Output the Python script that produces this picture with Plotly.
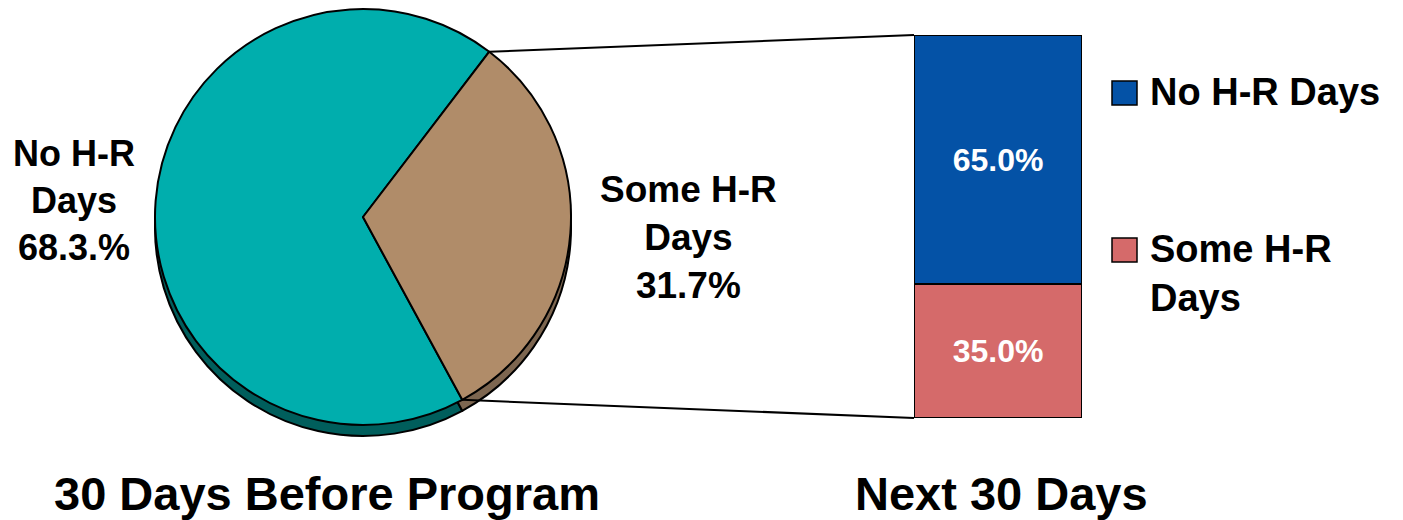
import math
import plotly.graph_objects as go

# ---- data ----
pie_categories = ["No H-R Days", "Some H-R Days"]
pie_values = [68.3, 31.7]
pie_label_text = ["No H-R<br>Days<br>68.3.%", "Some H-R<br>Days<br>31.7%"]

bar_categories = ["Some H-R Days", "No H-R Days"]   # bottom -> top
bar_values = [35.0, 65.0]

left_title = "30 Days Before Program"
right_title = "Next 30 Days"
legend_labels = ["No H-R Days", "Some H-R<br>Days"]

# ---- style ----
W, H = 1403, 520
FONT = "Liberation Sans, Arial, sans-serif"
pie_colors = ["#00aead", "#b08c69"]
pie_shadow_colors = ["#005e5c", "#7d6650"]
bar_colors = {"Some H-R Days": "#d56a6a", "No H-R Days": "#0452a6"}

cx, cy, r = 363, 217, 208          # pie centre / radius in px
depth = 11
rotation = 151.5                    # start angle of first slice (clockwise from 12 o'clock)

def px_dom_x(a, b):
    return [a / W, b / W]

def px_dom_y(top, bottom):
    return [1 - bottom / H, 1 - top / H]

fig = go.Figure()

# 3-D edge (shadow pie)
fig.add_trace(go.Pie(
    labels=pie_categories, values=pie_values, sort=False, direction="clockwise",
    rotation=rotation, textinfo="none", hoverinfo="skip", showlegend=False,
    marker=dict(colors=pie_shadow_colors, line=dict(color="black", width=2)),
    domain=dict(x=px_dom_x(cx - r, cx + r), y=px_dom_y(cy - r + depth, cy + r + depth)),
))
# main pie
fig.add_trace(go.Pie(
    labels=pie_categories, values=pie_values, sort=False, direction="clockwise",
    rotation=rotation, textinfo="none", showlegend=False,
    marker=dict(colors=pie_colors, line=dict(color="black", width=2)),
    domain=dict(x=px_dom_x(cx - r, cx + r), y=px_dom_y(cy - r, cy + r)),
))

# stacked bar
for cat, val in zip(bar_categories, bar_values):
    fig.add_trace(go.Bar(
        x=[0], y=[val], name=cat, width=1, showlegend=False,
        marker=dict(color=bar_colors[cat], line=dict(color="black", width=2)),
        text=[f"{val:.1f}%"], textposition="inside", insidetextanchor="middle",
        textfont=dict(family=FONT, size=32, color="white", weight="bold"),
        xaxis="x", yaxis="y",
    ))

fig.update_layout(
    width=W, height=H, margin=dict(l=0, r=0, t=0, b=0),
    paper_bgcolor="white", plot_bgcolor="rgba(0,0,0,0)",
    barmode="stack", bargap=0,
    xaxis=dict(domain=px_dom_x(914, 1082), range=[-0.5, 0.5], visible=False, fixedrange=True),
    yaxis=dict(domain=px_dom_y(35, 418), range=[0, 100], visible=False, fixedrange=True),
    showlegend=False,
    font=dict(family=FONT, color="black"),
)

# connector lines from pie slice edges to the bar
total = sum(pie_values)
a_start = math.radians(rotation)
a_end = math.radians(rotation + 360 * pie_values[0] / total)
def edge(a):
    return (cx + r * math.sin(a)) / W, 1 - (cy - r * math.cos(a)) / H
x_top, y_top = edge(a_end)      # upper boundary of small slice
x_bot, y_bot = edge(a_start)    # lower boundary of small slice
fig.add_shape(type="line", xref="paper", yref="paper", x0=x_top, y0=y_top, x1=914 / W, y1=1 - 35 / H,
              line=dict(color="black", width=2))
fig.add_shape(type="line", xref="paper", yref="paper", x0=x_bot, y0=y_bot, x1=914 / W, y1=1 - 418 / H,
              line=dict(color="black", width=2))

def ann(x, y, text, size, xanchor="center", yanchor="middle", align="center"):
    fig.add_annotation(x=x / W, y=1 - y / H, xref="paper", yref="paper", text=text,
                       showarrow=False, xanchor=xanchor, yanchor=yanchor, align=align,
                       font=dict(size=size, weight="bold"))

# pie labels
ann(74, 201, pie_label_text[0], 36)
ann(688, 238, pie_label_text[1], 37)

# titles
ann(327, 493, left_title, 47)
ann(1001, 493, right_title, 47)

# legend (manual)
leg_colors = [bar_colors["No H-R Days"], bar_colors["Some H-R Days"]]
leg_y = [93, 250]
for lab, col, yc in zip(legend_labels, leg_colors, leg_y):
    fig.add_shape(type="rect", xref="paper", yref="paper",
                  x0=1112 / W, x1=1137 / W, y0=1 - (yc + 12) / H, y1=1 - (yc - 12) / H,
                  fillcolor=col, line=dict(color="black", width=1.5))
    ann(1148, yc - 24, lab, 38, xanchor="left", yanchor="top", align="left")

fig.write_html("out.html", config={"displayModeBar": False},
               post_script="document.body.style.margin='0';")
